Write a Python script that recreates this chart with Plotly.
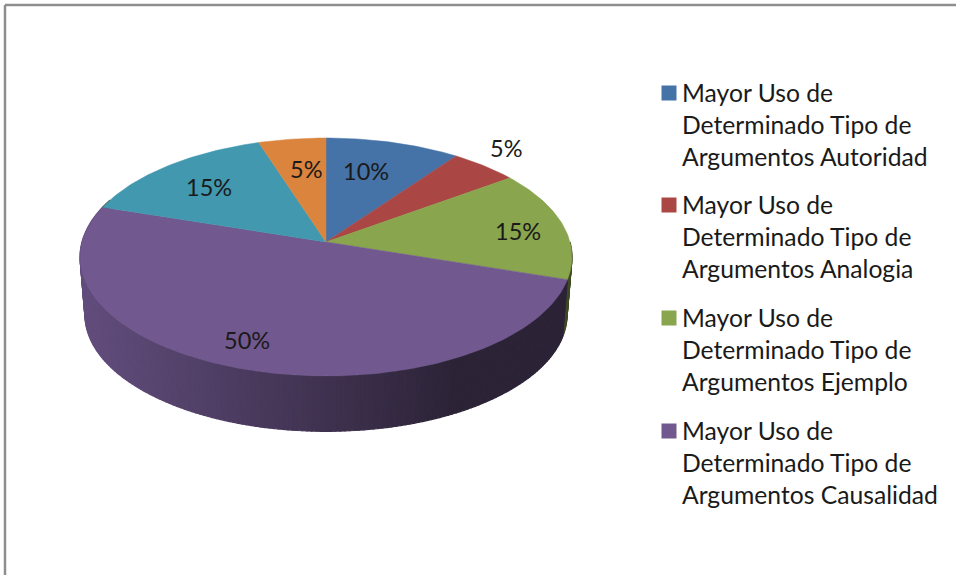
import math
import plotly.graph_objects as go

# --- data ---
slice_values = [10, 5, 15, 50, 15, 5]
slice_names = [
    "Mayor Uso de Determinado Tipo de Argumentos Autoridad",
    "Mayor Uso de Determinado Tipo de Argumentos Analogia",
    "Mayor Uso de Determinado Tipo de Argumentos Ejemplo",
    "Mayor Uso de Determinado Tipo de Argumentos Causalidad",
    "",
    "",
]
legend_lines = [
    ["Mayor Uso de", "Determinado Tipo de", "Argumentos Autoridad"],
    ["Mayor Uso de", "Determinado Tipo de", "Argumentos Analogia"],
    ["Mayor Uso de", "Determinado Tipo de", "Argumentos Ejemplo"],
    ["Mayor Uso de", "Determinado Tipo de", "Argumentos Causalidad"],
]

# --- styles and layout ---
slice_colors = ["#4572A7", "#AA4643", "#89A54E", "#71588F", "#4198AF", "#DB843D"]
FONT = "Lato, Carlito, sans-serif"
TEXT = "#1a1a1a"
CX, CY = 326.0, 242.0      # projected pie centre (px)
A, B, K = 244.0, 117.1, 0.126  # perspective projection of the unit circle
BASE_Y, BASE_S = 300.0, 0.98   # projected base of the cylinder
label_xy = [(366, 171), (506, 148), (518, 231), (247, 340), (209, 187), (306, 169)]
legend_marker_y = [93, 205, 318, 431]
legend_mid_y = [124, 236.5, 349, 462]


def project(theta_deg, top=True):
    t = math.radians(theta_deg)
    u, v = math.sin(t), math.cos(t)
    d = 1 + K * v
    if top:
        return CX + A * u / d, CY - B * v / d
    return CX + BASE_S * A * u / d, BASE_Y - BASE_S * B * v / d


def mix(c1, c2, f):
    return "rgb(%d,%d,%d)" % tuple(round(a + (b - a) * f) for a, b in zip(c1, c2))


def purple_wall(x):
    f = max(0.0, min(1.0, (x - 84) / 370))
    return mix((0x62, 0x4D, 0x7D), (0x2C, 0x23, 0x37), f)


fig = go.Figure()

total = sum(slice_values)
edges = [0.0]
for val in slice_values:
    edges.append(edges[-1] + 360.0 * val / total)

# side wall (visible part only), drawn before the top faces
WALL_FROM, WALL_TO = 90.0, 292.0
for i, val in enumerate(slice_values):
    lo, hi = max(edges[i], WALL_FROM), min(edges[i + 1], WALL_TO)
    if hi <= lo:
        continue
    n = max(1, int((hi - lo) / 1.0))
    for j in range(n):
        a0 = lo + (hi - lo) * j / n
        a1 = lo + (hi - lo) * (j + 1) / n
        p = [project(a0), project(a1), project(a1, False), project(a0, False)]
        xs = [q[0] for q in p] + [p[0][0]]
        ys = [q[1] for q in p] + [p[0][1]]
        xm = sum(xs[:4]) / 4
        col = purple_wall(xm) if i == 3 else "#3E4A25"
        fig.add_trace(go.Scatter(x=xs, y=ys, mode="lines", fill="toself", fillcolor=col,
                                 line=dict(color=col, width=1.2), hoverinfo="skip",
                                 showlegend=False))

# top faces
for i, val in enumerate(slice_values):
    xs, ys = [CX], [CY]
    n = max(4, int((edges[i + 1] - edges[i]) / 1.0))
    for j in range(n + 1):
        x, y = project(edges[i] + (edges[i + 1] - edges[i]) * j / n)
        xs.append(x)
        ys.append(y)
    xs.append(CX)
    ys.append(CY)
    fig.add_trace(go.Scatter(x=xs, y=ys, mode="lines", fill="toself",
                             fillcolor=slice_colors[i],
                             line=dict(color=slice_colors[i], width=0.5),
                             name=slice_names[i], text=f"{val}%", hoverinfo="text+name",
                             showlegend=False))

# value labels
for val, (x, y) in zip(slice_values, label_xy):
    fig.add_annotation(x=x, y=y, text=f"{val}%", showarrow=False,
                       font=dict(family=FONT, size=23.5, color=TEXT),
                       xanchor="center", yanchor="middle")

# legend markers and text
for i, lines in enumerate(legend_lines):
    fig.add_trace(go.Scatter(x=[669], y=[legend_marker_y[i]], mode="markers",
                             marker=dict(symbol="square", size=15, color=slice_colors[i],
                                         line=dict(width=0)),
                             name=slice_names[i], hoverinfo="name", showlegend=False))
    fig.add_annotation(x=682, y=legend_mid_y[i], text="<br>".join(lines), showarrow=False,
                       font=dict(family=FONT, size=24.7, color=TEXT), align="left",
                       xanchor="left", yanchor="middle", xshift=-2)

# chart frame (top and left edges are what the crop shows)
frame = dict(type="line", xref="x", yref="y", line=dict(color="#8E8E8E", width=2.5))
fig.add_shape(x0=5, y0=5, x1=956, y1=5, **frame)
fig.add_shape(x0=5, y0=5, x1=5, y1=575, **frame)

fig.update_layout(
    width=956, height=575, margin=dict(l=0, r=0, t=0, b=0),
    paper_bgcolor="white", plot_bgcolor="white", showlegend=False,
    xaxis=dict(range=[0, 956], visible=False, fixedrange=True),
    yaxis=dict(range=[575, 0], visible=False, fixedrange=True),
)
fig.write_html("out.html", config=dict(displayModeBar=False),
               post_script="document.body.style.margin='0';document.body.style.overflow='hidden';")
